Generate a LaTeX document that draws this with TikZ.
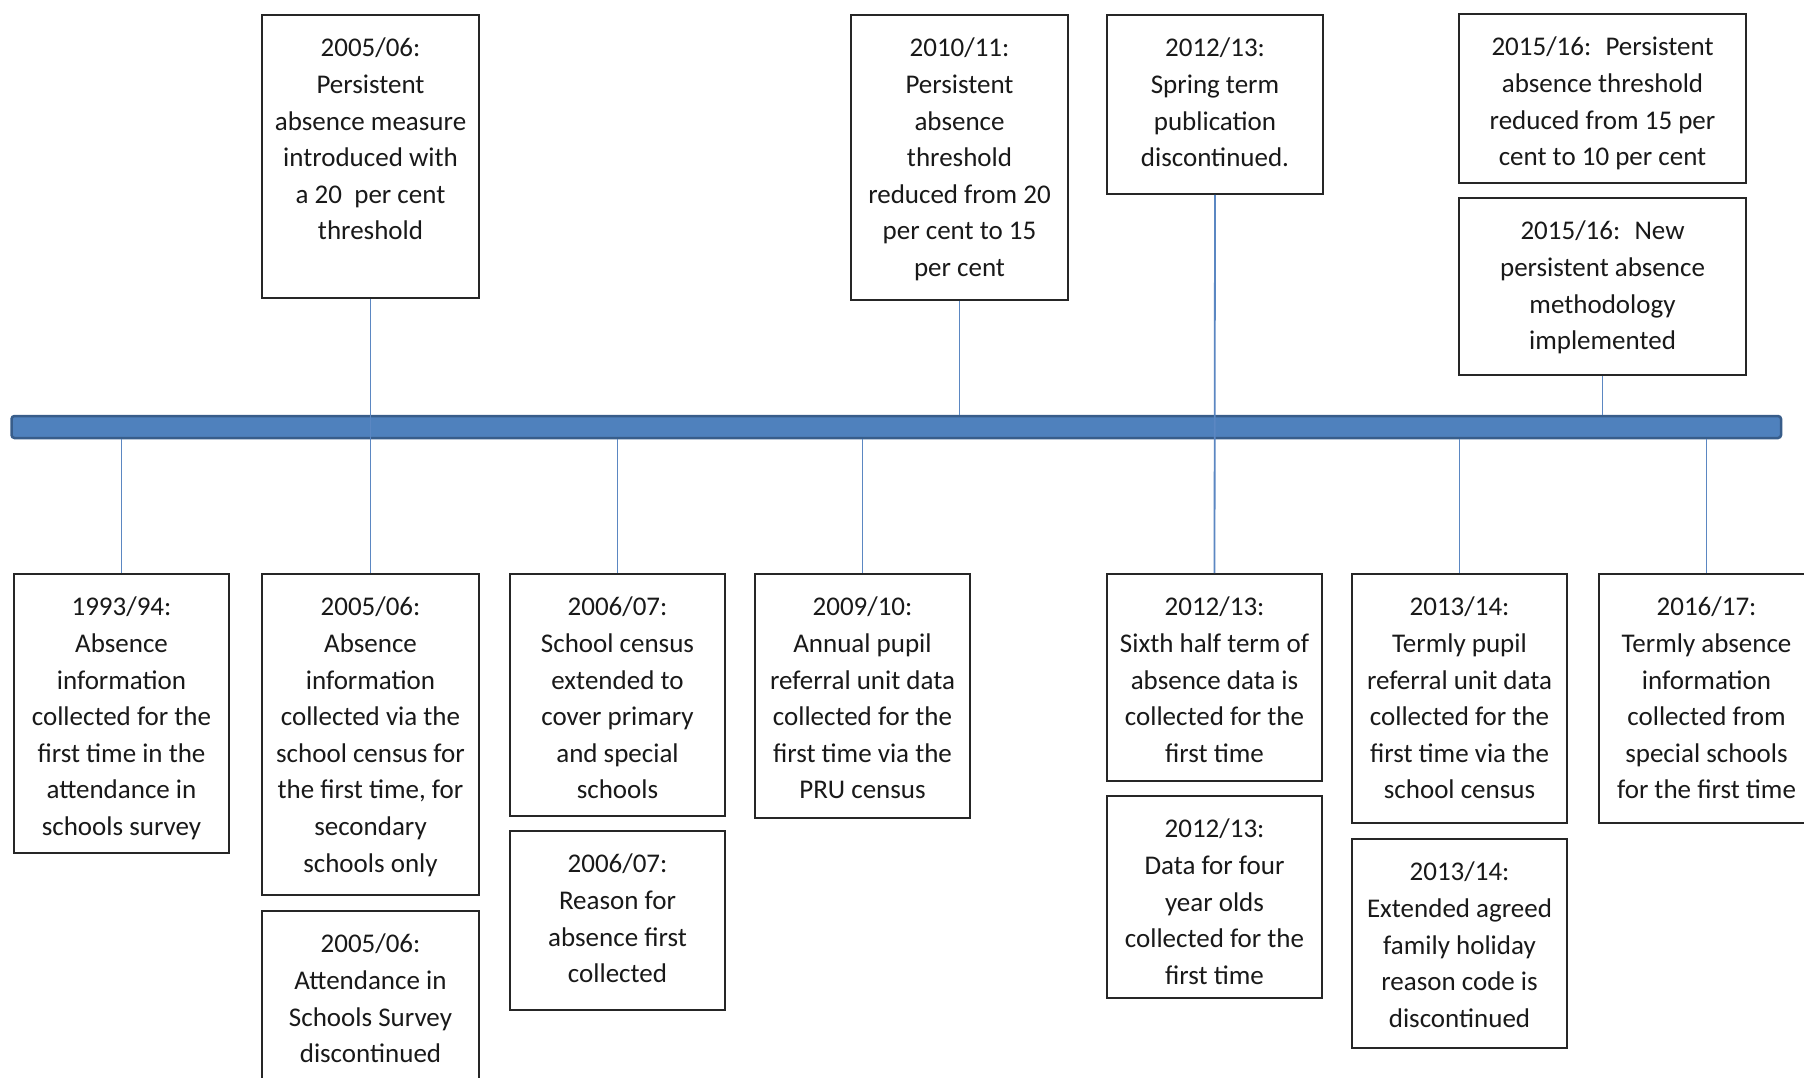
\documentclass[tikz,border=0pt]{standalone}
\usepackage{fontspec}
\setmainfont{Carlito}
\usetikzlibrary{fit}
\definecolor{barblue}{HTML}{4F81BD}
\definecolor{bardark}{HTML}{385D8A}
\definecolor{connblue}{HTML}{5B87C2}
\tikzset{
  evbox/.style={draw=black!85, line width=1.8pt, inner sep=0pt, fill=white},
  evtext/.style={anchor=north, align=center, inner sep=0pt, text=black!90,
    font=\fontsize{27}{36.6}\selectfont, execute at begin node=\rule{0pt}{24pt}},
  barst/.style={fill=barblue, draw=bardark, line width=2.5pt, rounded corners=3pt, inner sep=0pt},
  conn/.style={draw=connblue, line width=1.8pt}
}
\newcommand\evbox[6]{%
  \node[evbox, fit={(#2,#3) (#4,#5)}] (#1) {};
  \node[evtext] (#1-t) at ({(#2+#4)/2},{#3+23}) {#6};}
\begin{document}
\begin{tikzpicture}[x=1pt,y=-1pt]
\fill[white] (0,0) rectangle (1804,1078);
\useasboundingbox (0,0) rectangle (1804,1078);
\clip (0,0) rectangle (1804,1078);

% timeline bar
\node[barst, fit={(11.5,416) (1781,438)}] (bar) {};

% top boxes
\evbox{t1}{262}{15}{479}{298}{2005/06:\\Persistent\\absence measure\\introduced with\\a 20 \ per cent\\threshold}
\evbox{t2}{851}{15}{1068}{300}{2010/11:\\Persistent\\absence\\threshold\\reduced from 20\\per cent to 15\\per cent}
\evbox{t3}{1107}{15}{1323}{194}{2012/13:\\Spring term\\publication\\discontinued.}
\evbox{t4}{1459}{14}{1746}{183}{2015/16: \ Persistent\\absence threshold\\reduced from 15 per\\cent to 10 per cent}
\evbox{t5}{1459}{198}{1746}{375}{2015/16: \ New\\persistent absence\\methodology\\implemented}

% bottom boxes
\evbox{a}{14}{574}{229}{853}{1993/94:\\Absence\\information\\collected for the\\first time in the\\attendance in\\schools survey}
\evbox{b}{262}{574}{479}{895}{2005/06:\\Absence\\information\\collected via the\\school census for\\the first time, for\\secondary\\schools only}
\evbox{c}{262}{911}{479}{1100}{2005/06:\\Attendance in\\Schools Survey\\discontinued}
\evbox{d}{510}{574}{725}{816}{2006/07:\\School census\\extended to\\cover primary\\and special\\schools}
\evbox{e}{510}{831}{725}{1010}{2006/07:\\Reason for\\absence first\\collected}
\evbox{f}{755}{574}{970}{818}{2009/10:\\Annual pupil\\referral unit data\\collected for the\\first time via the\\PRU census}
\evbox{g}{1107}{574}{1322}{781}{2012/13:\\Sixth half term of\\absence data is\\collected for the\\first time}
\evbox{h}{1107}{796}{1322}{998}{2012/13:\\Data for four\\year olds\\collected for the\\first time}
\evbox{i}{1352}{574}{1567}{823}{2013/14:\\Termly pupil\\referral unit data\\collected for the\\first time via the\\school census}
\evbox{j}{1352}{839}{1567}{1048}{2013/14:\\Extended agreed\\family holiday\\reason code is\\discontinued}
\evbox{k}{1599}{574}{1814}{823}{2016/17:\\Termly absence\\information\\collected from\\special schools\\for the first time}

% connectors
\draw[conn] (t1.south) -- (b.north);
\draw[conn] (t2.south) -- (t2.south |- bar.north);
\draw[conn] (t3.south) -- (g.north);
\draw[conn] (t5.south) -- (t5.south |- bar.north);
\draw[conn] (a.north) -- (a.north |- bar.south);
\draw[conn] (d.north) -- (d.north |- bar.south);
\draw[conn] (f.north) -- (f.north |- bar.south);
\draw[conn] (i.north) -- (i.north |- bar.south);
\draw[conn] (k.north) -- (k.north |- bar.south);
\end{tikzpicture}
\end{document}
